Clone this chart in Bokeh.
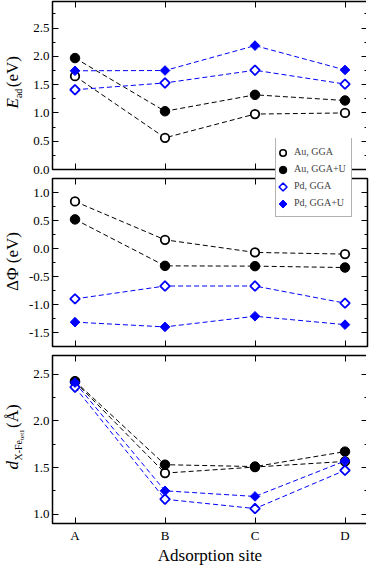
import math
from bokeh.plotting import figure
from bokeh.models import (LinearAxis, FixedTicker, PrintfTickFormatter, Legend,
                          LegendItem, Label, Range1d, ColumnDataSource)
from bokeh.layouts import column, row
from bokeh.embed import file_html
from bokeh.resources import INLINE

# ---------------- data ----------------
sites = ["A", "B", "C", "D"]
series_names = ["Au, GGA", "Au, GGA+U", "Pd, GGA", "Pd, GGA+U"]

# adsorption energy E_ad (eV)
ead_au_gga = [1.65, 0.56, 0.98, 1.00]
ead_au_ggau = [1.97, 1.03, 1.32, 1.22]
ead_pd_gga = [1.41, 1.53, 1.755, 1.51]
ead_pd_ggau = [1.745, 1.75, 2.19, 1.76]

# work function change (eV)
dphi_au_gga = [0.84, 0.155, -0.07, -0.10]
dphi_au_ggau = [0.52, -0.31, -0.315, -0.34]
dphi_pd_gga = [-0.90, -0.67, -0.67, -0.976]
dphi_pd_ggau = [-1.315, -1.40, -1.21, -1.36]

# distance X-Fe_tet1 (Angstrom)
d_au_gga = [2.42, 1.44, 1.505, 1.565]
d_au_ggau = [2.425, 1.53, 1.51, 1.67]
d_pd_gga = [2.36, 1.16, 1.06, 1.47]
d_pd_ggau = [2.41, 1.25, 1.19, 1.57]

ead_ticks = [0.0, 0.5, 1.0, 1.5, 2.0, 2.5]
ead_minor = [0.25, 0.75, 1.25, 1.75, 2.25, 2.75]
dphi_ticks = [-1.5, -1.0, -0.5, 0.0, 0.5, 1.0]
dphi_minor = [-1.25, -0.75, -0.25, 0.25, 0.75]
d_ticks = [1.0, 1.5, 2.0, 2.5]
d_minor = [1.25, 1.75, 2.25]

# ---------------- style ----------------
FONT = "Liberation Serif"
WLAB = 25         # width of the y-title strip
BL = 24           # room for tick labels
BR = 2
WCOL = 366 - WLAB
FW = WCOL - BL - BR   # frame width
HF = 168          # frame height
BLUE = "#0000ff"
colors = ["black", "black", BLUE, BLUE]
markers = ["circle", "circle", "square", "square"]
filled = [False, True, False, True]
angles = [0.0, 0.0, math.pi / 4, math.pi / 4]
sizes = [8.5, 9.5, 6.8, 6.8]
leg_sizes = [6.5, 7.5, 5.6, 5.6]

xpos = list(range(len(sites)))
xlabels = {i: s for i, s in enumerate(sites)}
XR = (-0.25, 3.25)


def style_axis(ax, labels):
    ax.axis_line_color = None
    ax.major_tick_in = 6
    ax.major_tick_out = 0
    ax.minor_tick_in = 3
    ax.minor_tick_out = 0
    ax.major_tick_line_color = "black"
    ax.minor_tick_line_color = "black"
    ax.major_tick_line_width = 1
    ax.minor_tick_line_width = 1
    if labels:
        ax.major_label_text_font = FONT
        ax.major_label_text_font_size = "13px"
        ax.major_label_text_color = "black"
        ax.major_label_standoff = 3
    else:
        ax.major_label_text_font_size = "0px"
        ax.major_label_text_color = None
        ax.major_label_standoff = 0


def make_fig(yr, yticks, yminor, btop, bbot, xlab):
    p = figure(frame_width=FW, frame_height=HF, x_range=Range1d(*XR),
               y_range=Range1d(*yr), output_backend="svg", toolbar_location=None,
               x_axis_location=None, y_axis_location=None,
               min_border_left=BL, min_border_right=BR,
               min_border_top=btop, min_border_bottom=bbot)
    p.xgrid.grid_line_color = None
    p.ygrid.grid_line_color = None
    p.outline_line_color = "black"
    p.outline_line_width = 1.5
    p.background_fill_color = "white"
    p.border_fill_color = "white"
    yt = FixedTicker(ticks=yticks, minor_ticks=yminor)
    fmt = PrintfTickFormatter(format="%.1f")
    left = LinearAxis(ticker=yt, formatter=fmt)
    style_axis(left, True)
    right = LinearAxis(ticker=yt, formatter=fmt, fixed_location=XR[1])
    style_axis(right, False)
    xt = FixedTicker(ticks=xpos, minor_ticks=[])
    if xlab:
        below = LinearAxis(ticker=xt, major_label_overrides=xlabels)
        style_axis(below, True)
        below.axis_label = "Adsorption site"
        below.axis_label_text_font = FONT
        below.axis_label_text_font_size = "17px"
        below.axis_label_text_font_style = "normal"
        below.axis_label_text_color = "black"
        below.axis_label_standoff = 0
        below.major_label_standoff = 4
    else:
        below = LinearAxis(ticker=xt, fixed_location=yr[0])
        style_axis(below, False)
    above = LinearAxis(ticker=xt, fixed_location=yr[1])
    style_axis(above, False)
    p.add_layout(left, "left")
    p.add_layout(right, "right")
    p.add_layout(below, "below")
    p.add_layout(above, "above")
    return p


def add_series(p, ys_list):
    for ys, c, m, f, a, s in zip(ys_list, colors, markers, filled, angles, sizes):
        p.line(xpos, ys, line_color=c, line_width=1, line_dash="5 3")
        p.scatter(xpos, ys, marker=m, size=s, angle=a, line_color=c,
                  fill_color=c if f else "white", line_width=1 if f else 1.8)


def strip_fig():
    s = figure(width=WCOL, height=LH, x_range=Range1d(0, WCOL), y_range=Range1d(0, LH),
               output_backend="svg", toolbar_location=None,
               x_axis_location=None, y_axis_location=None, min_border=0,
               min_border_left=0, min_border_right=0,
               min_border_top=0, min_border_bottom=0)
    s.xgrid.grid_line_color = None
    s.ygrid.grid_line_color = None
    s.outline_line_color = None
    s.background_fill_color = None
    s.border_fill_color = None
    return s


# panels
p1 = make_fig((0.0, 2.97), ead_ticks, ead_minor, 1, 8, False)
add_series(p1, [ead_au_gga, ead_au_ggau, ead_pd_gga, ead_pd_ggau])

p2 = make_fig((-1.75, 1.25), dphi_ticks, dphi_minor, 1, 4, False)
add_series(p2, [dphi_au_gga, dphi_au_ggau, dphi_pd_gga, dphi_pd_ggau])

p3 = make_fig((0.9, 2.7), d_ticks, d_minor, 5, 37, True)
add_series(p3, [d_au_gga, d_au_ggau, d_pd_gga, d_pd_ggau])

# ---------------- legend ----------------
# Two transparent strips as wide as the panels float over the gap between panels 1 and 2:
# the first holds the Legend (box and texts), the second, on top, holds the keys.
LH = 80
LX = 243                 # legend left, from the column's left edge
LEG_SHIFT = 20           # the legend box is drawn this far right of its location
PAD, ITEM, GW = 5, 17, 12
legfig = strip_fig()
items = []
for n, c in zip(series_names, colors):
    proxy = legfig.scatter(x="x", y="y", source=ColumnDataSource(dict(x=[], y=[])),
                           marker="circle", size=1, line_color=c, fill_color=c)
    items.append(LegendItem(label=n, renderers=[proxy]))
legend = Legend(items=items, location=(LX - LEG_SHIFT, 1), margin=0, padding=PAD, spacing=0,
                glyph_width=GW, glyph_height=ITEM, label_height=ITEM, label_standoff=1,
                label_text_font=FONT, label_text_font_size="10px",
                border_line_color="#666666", border_line_width=1,
                background_fill_color="white", background_fill_alpha=1.0)
legfig.add_layout(legend)

keyfig = strip_fig()
leg_top = 1 + 2 * PAD + ITEM * len(series_names)
key_x = [LX + 9] * len(series_names)
key_y = [leg_top - PAD - ITEM / 2 - ITEM * i for i in range(len(series_names))]
keyfig.scatter(x=key_x, y=key_y, marker=markers, size=leg_sizes, angle=angles,
               line_color=colors,
               fill_color=[c if f else "white" for c, f in zip(colors, filled)],
               line_width=[1 if f else 1.6 for f in filled])

# column flow after p1 (178) + p2 (174) = 352 px; both strips start at 140
legfig.styles = {"margin-top": "-212px", "margin-bottom": f"-{LH}px"}
keyfig.styles = {"margin-bottom": "132px"}

# ---------------- y titles ----------------
HL = 560
labfig = figure(width=WLAB, height=HL, x_range=Range1d(0, WLAB), y_range=Range1d(HL, 0),
                output_backend="svg", toolbar_location=None,
                x_axis_location=None, y_axis_location=None, min_border=0)
labfig.xgrid.grid_line_color = None
labfig.ygrid.grid_line_color = None
labfig.outline_line_color = None
labfig.background_fill_color = "white"
labfig.border_fill_color = "white"


def add_label(text, x, y, size, style="normal", align="left"):
    labfig.add_layout(Label(x=x, y=y, text=text, angle=math.pi / 2, text_font=FONT,
                            text_font_size=f"{size}px", text_font_style=style,
                            text_baseline="alphabetic", text_align=align,
                            text_color="black"))


XB = 12
# E_ad (eV)
y0 = 108
add_label("E", XB, y0, 17, "italic")
add_label("ad", XB + 6, y0 - 10.4, 10)
add_label("(eV)", XB, y0 - 10.4 - 9.4 - 1.5, 17)
# ΔΦ (eV)
add_label("ΔΦ (eV)", XB, 261, 17, align="center")
# d_X-Fe_tet1 (Å)
y3 = 469
add_label("d", XB, y3, 17, "italic")
add_label("X-Fe", XB + 6, y3 - 9, 10)
add_label("tet1", XB + 9.5, y3 - 9 - 20.6, 7)
add_label(" (Å)", XB, y3 - 9 - 20.6 - 12, 17)

layout = row(labfig, column(p1, p2, legfig, keyfig, p3, spacing=0), spacing=0)
open("out.html", "w").write(file_html(layout, INLINE))
